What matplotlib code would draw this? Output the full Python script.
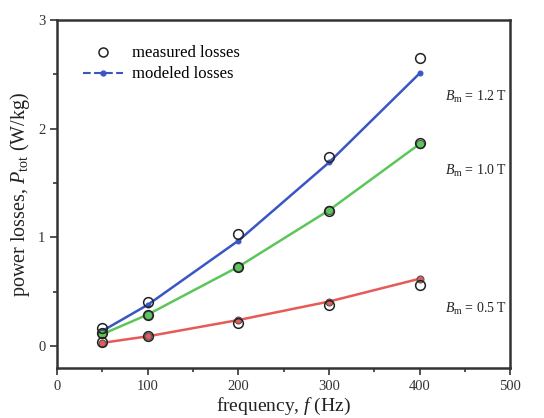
import matplotlib
matplotlib.use("Agg")
import matplotlib.pyplot as plt
from matplotlib.lines import Line2D
from matplotlib.ticker import MultipleLocator

plt.rcParams['font.family'] = ['Liberation Serif', 'DejaVu Serif']
plt.rcParams['mathtext.fontset'] = 'custom'
plt.rcParams['mathtext.it'] = 'Liberation Serif:italic'
plt.rcParams['mathtext.rm'] = 'Liberation Serif'

freq = [50, 100, 200, 300, 400]

measured_12 = [0.17, 0.41, 1.03, 1.74, 2.65]
measured_10 = [0.12, 0.29, 0.73, 1.24, 1.87]
measured_05 = [0.04, 0.09, 0.21, 0.38, 0.56]

modeled_12 = [0.14, 0.38, 0.97, 1.69, 2.51]
modeled_10 = [0.11, 0.29, 0.73, 1.25, 1.86]
modeled_05 = [0.03, 0.09, 0.24, 0.41, 0.62]

labels = [r'$B_{\rm m}$ = 1.2 T', r'$B_{\rm m}$ = 1.0 T', r'$B_{\rm m}$ = 0.5 T']
label_pos = [(428, 2.29), (428, 1.61), (428, 0.34)]

blue = '#3a56c4'
green = '#5cc65a'
red = '#e65a58'

fig = plt.figure(figsize=(5.44, 4.18), dpi=100)
ax = fig.add_axes([0.105, 0.12, 0.833, 0.832])

series = [
    (modeled_12, measured_12, blue, 3.5),
    (modeled_10, measured_10, green, 6.0),
    (modeled_05, measured_05, red, 5.0),
]
for model, meas, col, ms in series:
    ax.plot(freq, model, '-', color=col, lw=1.8, zorder=2)
    ax.plot(freq, model, 'o', color=col, ms=ms, mec=col if ms < 4 else '#555555',
            mew=0.8, zorder=3)
    ax.plot(freq, meas, 'o', mfc='none', mec='#222222', ms=7, mew=1.1, zorder=4)

for txt, (x, y) in zip(labels, label_pos):
    ax.text(x, y, txt, fontsize=10, color='#222222', ha='left', va='center')

ax.set_xlim(0, 500)
ax.set_ylim(-0.2, 3)
ax.xaxis.set_major_locator(MultipleLocator(100))
ax.xaxis.set_minor_locator(MultipleLocator(50))
ax.yaxis.set_major_locator(MultipleLocator(1))
ax.yaxis.set_minor_locator(MultipleLocator(0.5))
ax.tick_params(which='both', direction='out', top=False, right=False,
               labelsize=10.5, colors='#333333', width=1.2)
ax.tick_params(which='major', length=5)
ax.tick_params(which='minor', length=3)
for s in ax.spines.values():
    s.set_linewidth(1.8)
    s.set_color('#333333')

ax.set_xlabel(r'frequency, $f$ (Hz)', fontsize=14, color='#222222', labelpad=2)
ax.set_ylabel(r'power losses, $P_{\rm tot}$ (W/kg)', fontsize=14.5, color='#222222', labelpad=4)

handles = [
    Line2D([], [], ls='none', marker='o', mfc='none', mec='#222222', ms=6.5, mew=1.1),
    Line2D([], [], ls='--', color=blue, marker='o', ms=3.5, lw=1.5),
]
ax.legend(handles, ['measured losses', 'modeled losses'], loc='upper left',
          bbox_to_anchor=(0.025, 0.97), frameon=False, fontsize=12,
          handlelength=2.4, handletextpad=0.5, labelspacing=0.3)

fig.savefig('out.png', dpi=100, facecolor='white')
